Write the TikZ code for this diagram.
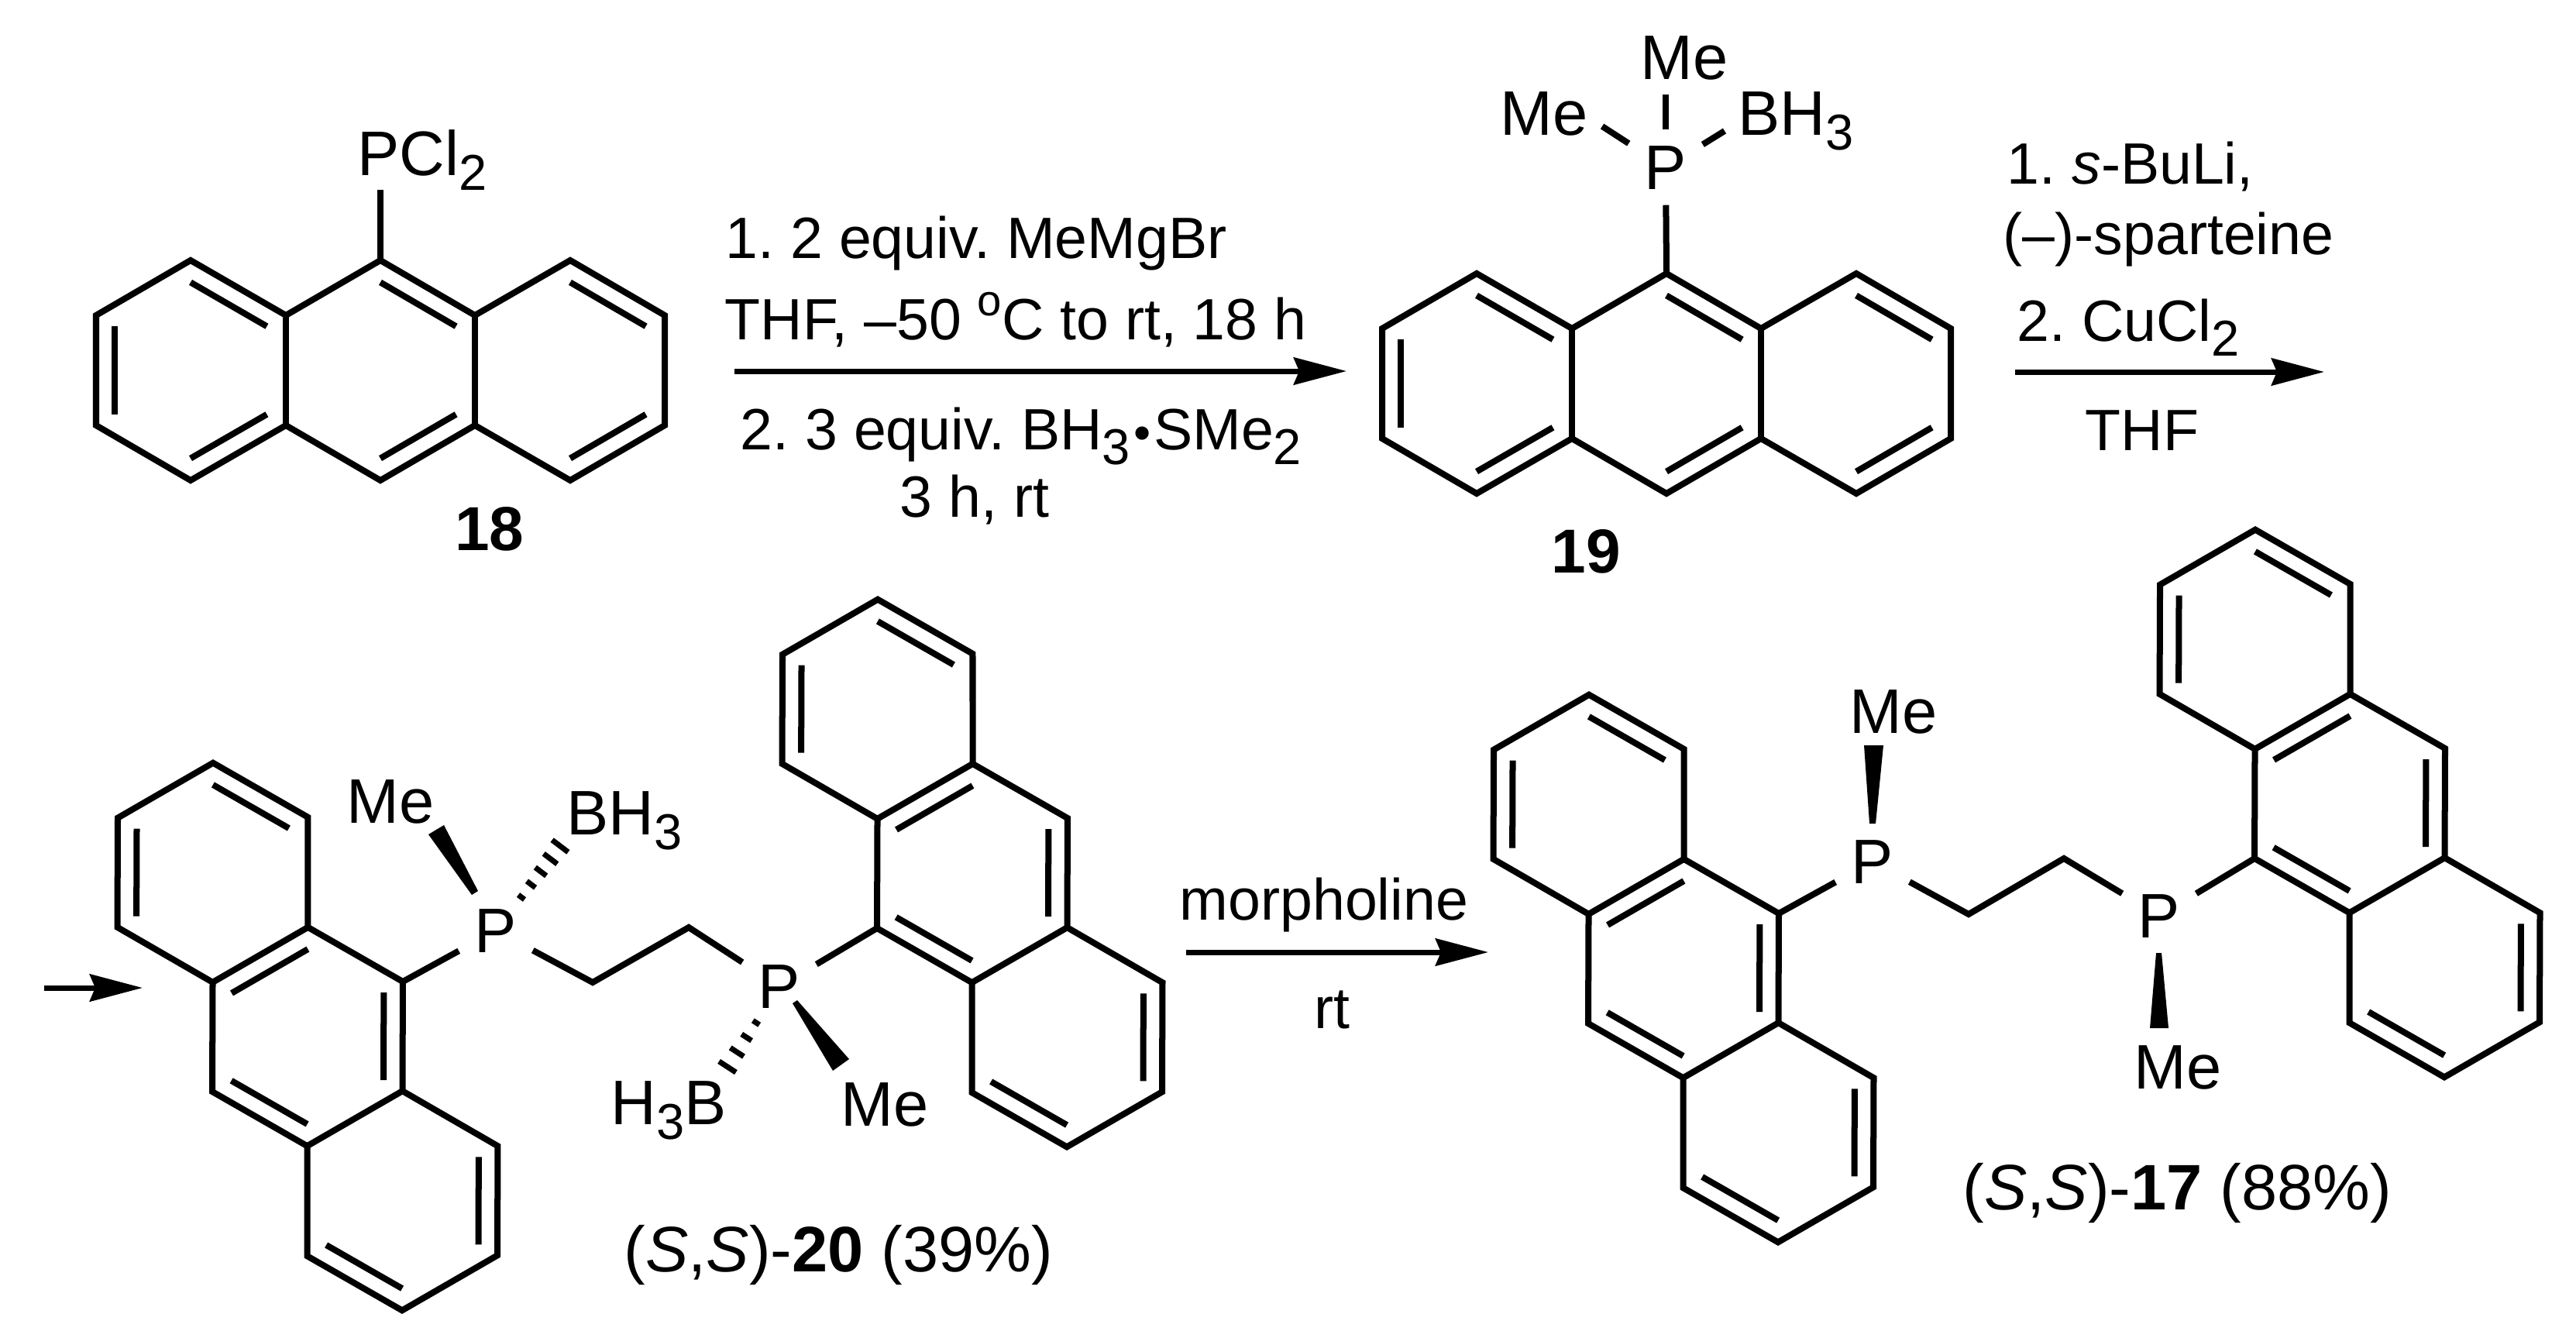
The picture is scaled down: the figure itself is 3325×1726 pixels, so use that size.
\documentclass[tikz,border=0pt]{standalone}
\usepackage{fontspec}
\setmainfont{Liberation Sans}
\usetikzlibrary{calc,arrows.meta}

\newcommand{\subnum}[1]{\raisebox{-0.19cm}{\fontsize{18.5}{18.5}\selectfont #1}}
\newcommand{\supo}{\raisebox{0.3cm}{\fontsize{16}{16}\selectfont o}}
\newcommand{\dotb}{\hspace{0.04cm}{\fontsize{18}{18}\selectfont •}\hspace{0.04cm}}

\tikzset{
  bond/.style={line width=0.08cm,line join=miter},
  rxn/.style={line width=0.07cm,-{Stealth[inset=0.07cm,length=0.68cm,width=0.35cm]}},
  chem/.style={font=\fontsize{23.1}{26}\selectfont\frenchspacing,anchor=base,inner sep=0pt},
  atom/.style={chem,inner sep=0.2cm},
  reag/.style={font=\fontsize{21.4}{25}\selectfont\frenchspacing,anchor=base west,inner sep=0pt},
  cpd/.style={font=\fontsize{23.6}{27}\selectfont\frenchspacing,anchor=base west,inner sep=0pt},
}

% ring skeleton: name, centre, angle
\newcommand{\anthra}[3]{
  \begin{scope}[shift={#2},rotate=#3]
    \foreach \n/\x/\y in {1/-367/71,2/-245/142,3/-122/71,4/0/142,5/122/71,6/245/142,7/367/71}{
      \coordinate (#1a\n) at (\x,-\y);
      \coordinate (#1b\n) at (\x,\y);
    }
    \coordinate (#1c1) at (-245,0);
    \coordinate (#1c2) at (0,0);
    \coordinate (#1c3) at (245,0);
  \end{scope}
  \draw[bond] (#1a1) -- (#1a2) -- (#1a3) -- (#1a4) -- (#1a5) -- (#1a6) -- (#1a7)
    -- (#1b7) -- (#1b6) -- (#1b5) -- (#1b4) -- (#1b3) -- (#1b2) -- (#1b1) -- cycle;
  \draw[bond] (#1a3) -- (#1b3);
  \draw[bond] (#1a5) -- (#1b5);
}
% inner lines of the double bonds
\newcommand{\innerl}[2]{
  \foreach \p/\q/\c in #2
    \draw[bond] ($(#1\c)!0.8!(#1\p)$) -- ($(#1\c)!0.8!(#1\q)$);
}
\newcommand{\hashbond}[3]{
  \coordinate (far) at ($(#1)!2!(#2)$);
  \foreach \i in {0,...,#3}{
    \pgfmathsetmacro\hf{\i/#3}
    \pgfmathsetmacro\hl{0.05+0.08*\hf}
    \coordinate (hp) at ($(#1)!\hf!(#2)$);
    \draw[line width=0.07cm] ($(hp)!\hl cm!90:(far)$) -- ($(hp)!\hl cm!-90:(far)$);
  }
}
\def\flatlist{a1/b1/c1,a2/a3/c1,b2/b3/c1,a4/a5/c2,b4/b5/c2,a6/a7/c3,b6/b7/c3}
\def\tiltlist{b1/b2/c1,a1/a2/c1,a3/b3/c2,b4/b5/c2,a4/a5/c2,a6/a7/c3,b6/b7/c3}

\begin{document}
\begin{tikzpicture}[x=0.01cm,y=-0.01cm]
  \useasboundingbox (0,0) rectangle (3325,1726);

  % 18
  \anthra{r}{(491,478)}{0}
  \innerl{r}{\flatlist}
  \node [chem,anchor=base west] (pcl) at (461,226) {PCl\subnum{2}};
  \coordinate (pclend) at (491,245);
  \draw[bond] (ra4) -- (pclend);
  \node [chem,font=\fontsize{22.8}{26}\selectfont\bfseries] (n18) at (632,710) {18};

  % first step
  \node [reag] (s1a) at (936,333) {1. 2 equiv. MeMgBr};
  \node [reag] (s1b) at (935,438) {THF, –50 \supo C to rt, 18 h};
  \node [reag] (s1c) at (955,580) {2. 3 equiv. BH\subnum{3}\dotb SMe\subnum{2}};
  \node [reag,anchor=base] (s1d) at (1258,667) {3 h, rt};
  \coordinate (a1s) at (948,479);
  \coordinate (a1e) at (1738,479);
  \draw[rxn] (a1s) -- (a1e);

  % 19
  \anthra{s}{(2151,495)}{0}
  \innerl{s}{\flatlist}
  \node [atom] (p19) at (2150,244) {P};
  \node [chem] (me19t) at (2174,102) {Me};
  \node [chem] (me19l) at (1993,174) {Me};
  \node [chem,anchor=base west] (bh19) at (2243,174) {BH\subnum{3}};
  \coordinate (ml19) at (2068,163);
  \coordinate (mr19) at (2226,169);
  \coordinate (mt19) at (2150,122);
  \draw[bond] (p19) -- (sa4);
  \draw[bond] (p19) -- (ml19);
  \draw[bond] (p19) -- (mr19);
  \draw[bond] (p19) -- (mt19);
  \node [chem,font=\fontsize{22.8}{26}\selectfont\bfseries] (n19) at (2047,739) {19};

  % second step
  \node [reag] (s2a) at (2590,237) {1. \textit{s}-BuLi,};
  \node [reag] (s2b) at (2585,328) {(–)-sparteine};
  \node [reag] (s2c) at (2603,440) {2. CuCl\subnum{2}};
  \node [reag,anchor=base] (s2d) at (2765,581) {THF};
  \coordinate (a2s) at (2601,480);
  \coordinate (a2e) at (3000,480);
  \draw[rxn] (a2s) -- (a2e);
  \coordinate (a3s) at (57,1275);
  \coordinate (a3e) at (184,1275);
  \draw[rxn] (a3s) -- (a3e);

  % 20
  \anthra{t}{(397,1338)}{-60}
  \innerl{t}{\tiltlist}
  \anthra{u}{(1255,1127)}{-60}
  \innerl{u}{\tiltlist}
  \node [atom] (p20a) at (640,1229) {P};
  \node [atom] (p20b) at (1006,1301) {P};
  \coordinate (c20a) at (765,1268);
  \coordinate (c20b) at (889,1197);
  \draw[bond] (ta4) -- (p20a) -- (c20a) -- (c20b) -- (p20b) -- (ub4);
  \node [chem] (me20a) at (504,1062) {Me};
  \node [chem,anchor=base west] (bh20) at (731,1077) {BH\subnum{3}};
  \node [chem,anchor=base west] (hb20) at (788,1451) {H\subnum{3}B};
  \node [chem] (me20b) at (1142,1453) {Me};
  \fill (609,1155) -- (617,1150) -- (573,1065) -- (553,1077) -- cycle;
  \fill (1023,1295) -- (1029,1291) -- (1096,1367) -- (1075,1382) -- cycle;
  \coordinate (h1a) at (673,1158);
  \coordinate (h1b) at (723,1092);
  \hashbond{h1a}{h1b}{4}
  \coordinate (h2a) at (976,1320);
  \coordinate (h2b) at (939,1377);
  \hashbond{h2a}{h2b}{3}
  \node [cpd] (n20) at (805,1641) {(\textit{S},\textit{S})-\textbf{20} (39\%)};

  % third step
  \node [reag,anchor=base] (s3a) at (1709,1187) {morpholine};
  \node [reag,anchor=base] (s3b) at (1719,1327) {rt};
  \coordinate (a4s) at (1531,1229);
  \coordinate (a4e) at (1921,1229);
  \draw[rxn] (a4s) -- (a4e);

  % 17
  \anthra{v}{(2173,1250)}{-60}
  \innerl{v}{\tiltlist}
  \anthra{w}{(3033,1037)}{-60}
  \innerl{w}{\tiltlist}
  \node [atom] (p17a) at (2417,1140) {P};
  \node [atom] (p17b) at (2787,1210) {P};
  \coordinate (c17a) at (2541,1180);
  \coordinate (c17b) at (2664,1108);
  \draw[bond] (va4) -- (p17a) -- (c17a) -- (c17b) -- (p17b) -- (wb4);
  \node [chem] (me17a) at (2444,946) {Me};
  \node [chem] (me17b) at (2811,1405) {Me};
  \fill (2413,1063) -- (2421,1063) -- (2431,962) -- (2406,962) -- cycle;
  \fill (2783,1230) -- (2790,1230) -- (2799,1327) -- (2775,1327) -- cycle;
  \node [cpd] (n17) at (2533,1561) {(\textit{S},\textit{S})-\textbf{17} (88\%)};
\end{tikzpicture}
\end{document}
